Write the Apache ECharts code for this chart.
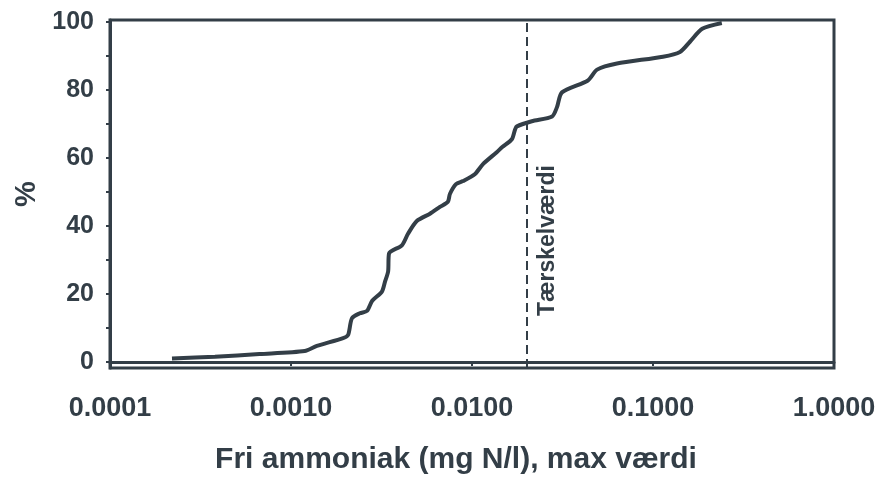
<!DOCTYPE html>
<html>
<head>
<meta charset="utf-8">
<script src="https://cdn.jsdelivr.net/npm/echarts@6/dist/echarts.min.js"></script>
<style>
  html, body { margin: 0; padding: 0; background: #ffffff; }
  #chart { width: 881px; height: 480px; }
</style>
</head>
<body>
<div id="chart"></div>
<script>
// Cumulative share (%) of samples against free ammonia concentration (mg N/l, max value)
const concentration = [
  0.00022, 0.00038, 0.00067, 0.00119, 0.00139, 0.00194, 0.00207, 0.00217,
  0.00240, 0.00263, 0.00281, 0.00318, 0.00331, 0.00344, 0.00348, 0.00410,
  0.00443, 0.00497, 0.00586, 0.00665, 0.00736, 0.00755, 0.00816, 0.00892,
  0.0104, 0.0115, 0.0137, 0.0147, 0.0166, 0.0173, 0.0177, 0.0214,
  0.0277, 0.0295, 0.0314, 0.0437, 0.0491, 0.0632, 0.1135, 0.141,
  0.160, 0.187, 0.240
];
const cumulativePct = [
  1.0, 1.5, 2.3, 3.2, 4.7, 7.0, 8.0, 12.8,
  14.3, 15.0, 18.0, 20.7, 23.7, 26.6, 31.9, 34.3,
  37.7, 41.5, 43.6, 45.6, 47.1, 49.4, 52.3, 53.2,
  55.3, 58.2, 61.7, 63.2, 65.5, 68.4, 69.3, 70.8,
  72.2, 75.0, 79.3, 82.8, 86.0, 87.8, 89.8, 91.2,
  94.2, 98.0, 99.7
];
const thresholdValue = 0.0214;
const thresholdLabel = 'Tærskelværdi';
const yTickValues = [0, 20, 40, 60, 80, 100];
const yMinorTickValues = [0, 10, 20, 30, 40, 50, 60, 70, 80, 90, 100];
const xTitle = 'Fri ammoniak (mg N/l), max værdi';
const yTitle = '%';

const ink = '#333e47';
const font = 'Arial, "Liberation Sans", Helvetica, sans-serif';

const points = concentration.map((c, i) => [c, cumulativePct[i]]);

const chart = echarts.init(document.getElementById('chart'), null, { renderer: 'canvas' });
chart.setOption({
  backgroundColor: '#ffffff',
  animation: false,
  grid: {
    left: 110, right: 47, top: 20, bottom: 110,
    show: true, borderColor: ink, borderWidth: 3, backgroundColor: 'transparent'
  },
  xAxis: {
    type: 'log',
    logBase: 10,
    min: 0.0001,
    max: 1,
    name: xTitle,
    nameLocation: 'middle',
    nameGap: 77,
    nameTextStyle: {
      color: ink, fontFamily: font, fontSize: 30, fontWeight: 'bold',
      padding: [0, 32, 0, 0]
    },
    axisLine: { show: true, lineStyle: { color: ink, width: 3 } },
    axisTick: { show: true, inside: false, length: 4, lineStyle: { color: ink, width: 2 } },
    minorTick: { show: false },
    splitLine: { show: false },
    axisLabel: {
      color: ink, fontFamily: font, fontSize: 27, fontWeight: 'bold', margin: 27,
      formatter: v => Number(v).toFixed(4)
    }
  },
  yAxis: {
    type: 'value',
    min: -1.8,
    max: 100.6,
    name: yTitle,
    nameLocation: 'middle',
    nameGap: 68,
    nameRotate: 90,
    nameTextStyle: { color: ink, fontFamily: font, fontSize: 29, fontWeight: 'bold' },
    axisLine: { show: true, lineStyle: { color: ink, width: 3 } },
    axisTick: {
      show: true, inside: false, length: 4,
      customValues: yMinorTickValues,
      lineStyle: { color: ink, width: 2 }
    },
    splitLine: { show: false },
    axisLabel: {
      color: ink, fontFamily: font, fontSize: 25, fontWeight: 'bold', margin: 16,
      customValues: yTickValues
    }
  },
  series: [{
    type: 'line',
    data: points,
    showSymbol: false,
    smooth: 0.25,
    lineStyle: { color: ink, width: 4 },
    itemStyle: { color: ink },
    markLine: {
      silent: true,
      symbol: 'none',
      lineStyle: { color: ink, width: 2, type: [9, 5] },
      label: {
        show: true,
        position: 'insideStartBottom',
        formatter: thresholdLabel,
        color: ink, fontFamily: font, fontSize: 23, fontWeight: 'bold',
        distance: [52, 10]
      },
      data: [{ xAxis: thresholdValue }]
    }
  }]
});
</script>
</body>
</html>
